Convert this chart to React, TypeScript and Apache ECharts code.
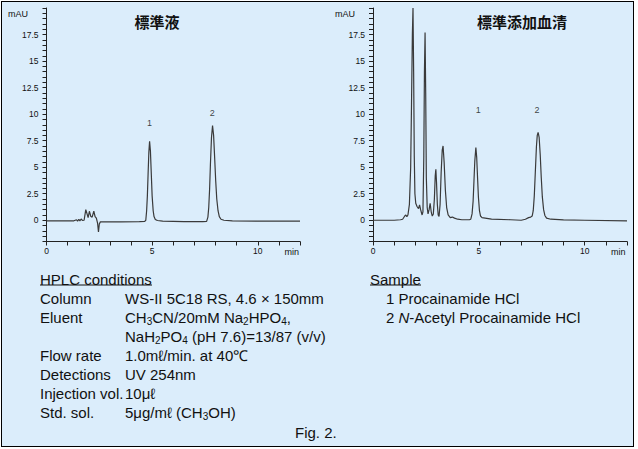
import React, { useEffect, useRef } from 'react';
import * as echarts from 'echarts';

// ---- data ----
const yTickLabels = [0, 2.5, 5, 7.5, 10, 12.5, 15, 17.5];
const xTickLabels = [0, 5, 10];
const chartTitles = ['標準液', '標準添加血清'];

// Standard solution chromatogram [min, mAU]
const standardTrace: [number, number][] = [
  [0, -0.05], [1.3, -0.05], [1.42, 0.05], [1.47, -0.08], [1.53, 0.1], [1.58, -0.05],
  [1.64, 0.12], [1.7, -0.02], [1.78, 0.0], [1.86, 1.0], [1.92, 0.6], [1.97, 0.25],
  [2.03, 0.85], [2.1, 0.35], [2.16, 0.3], [2.24, 0.85], [2.3, 0.35], [2.36, 0.2],
  [2.42, -0.3], [2.46, -1.1], [2.5, -0.35], [2.55, -0.15], [3.5, -0.15], [4.4, -0.12],
  [4.65, -0.1], [4.7, 0.0], [4.74, 0.9], [4.775, 2.3], [4.81, 4.4], [4.845, 6.4],
  [4.88, 7.45], [4.92, 6.5], [4.96, 4.4], [5.0, 2.3], [5.05, 0.9], [5.09, 0.35],
  [5.15, 0.08], [5.25, -0.02], [5.5, -0.08], [6.5, -0.12], [7.4, -0.12], [7.58, -0.1],
  [7.64, 0.3], [7.68, 1.2], [7.72, 2.9], [7.76, 5.3], [7.81, 7.8], [7.86, 8.92],
  [7.91, 8.0], [7.96, 5.9], [8.01, 3.7], [8.06, 2.0], [8.12, 0.9], [8.18, 0.35],
  [8.26, 0.1], [8.4, 0.0], [8.8, -0.05], [10, -0.08], [12, -0.08],
];

// Spiked serum chromatogram [min, mAU]
const serumTrace: [number, number][] = [
  [0, 0.0], [1.0, 0.0], [1.3, 0.05], [1.4, 0.1], [1.5, 0.4], [1.55, 0.5], [1.6, 0.35],
  [1.65, 0.5], [1.72, 1.5], [1.78, 5], [1.82, 11], [1.86, 17.5], [1.89, 20], [1.92, 14],
  [1.95, 6], [1.98, 2.5], [2.02, 1.6], [2.08, 1.3], [2.15, 1.1], [2.2, 1.45], [2.25, 1.0],
  [2.32, 0.5], [2.36, 0.8], [2.4, 6], [2.43, 14], [2.46, 17.7], [2.49, 12], [2.52, 4],
  [2.56, 1.2], [2.6, 0.6], [2.65, 1.0], [2.7, 1.6], [2.75, 0.8], [2.8, 0.4], [2.85, 0.6],
  [2.9, 2], [2.94, 4.2], [2.97, 4.8], [3.0, 3.6], [3.04, 1.5], [3.08, 0.5], [3.12, 0.35],
  [3.17, 1.5], [3.22, 4.5], [3.27, 6.6], [3.31, 7.0], [3.36, 5.5], [3.42, 2.8], [3.48, 1.2],
  [3.55, 0.5], [3.65, 0.25], [3.75, 0.3], [3.85, 0.2], [4.0, 0.1], [4.2, 0.05], [4.55, 0.05],
  [4.62, 0.1], [4.68, 0.6], [4.73, 1.8], [4.77, 3.7], [4.81, 5.6], [4.86, 6.85], [4.9, 5.9],
  [4.94, 4.0], [4.98, 2.2], [5.03, 0.9], [5.08, 0.4], [5.15, 0.25], [5.3, 0.2], [5.6, 0.1],
  [6.5, 0.05], [7.0, 0.0], [7.2, 0.1], [7.35, 0.25], [7.45, 0.3], [7.52, 0.4], [7.57, 0.9],
  [7.62, 2.3], [7.67, 4.6], [7.72, 6.9], [7.76, 8.0], [7.8, 8.27], [7.85, 7.8], [7.9, 6.2],
  [7.95, 4.0], [8.0, 2.2], [8.06, 1.0], [8.12, 0.45], [8.2, 0.2], [8.4, 0.1], [9.0, 0.03],
  [10, 0.0], [12, -0.05],
];

const standardPeakLabels = [
  { name: '1', time: 4.88, level: 9.2 },
  { name: '2', time: 7.85, level: 10.1 },
];
const serumPeakLabels = [
  { name: '1', time: 4.97, level: 10.4 },
  { name: '2', time: 7.75, level: 10.4 },
];

const conditionsHeading = 'HPLC conditions';
const conditionLabels = ['Column', 'Eluent', '', 'Flow rate', 'Detections', 'Injection vol.', 'Std. sol.'];
const conditionValues = [
  'WS-II 5C18 RS, 4.6 × 150mm',
  'CH{s|3}CN/20mM Na{s|2}HPO{s|4},',
  'NaH{s|2}PO{s|4} (pH 7.6)=13/87 (v/v)',
  '1.0mℓ/min. at 40℃',
  'UV 254nm',
  '10μℓ',
  '5μg/mℓ (CH{s|3}OH)',
];
const sampleHeading = 'Sample';
const sampleLines = ['1 Procainamide HCl', '2 {i|N}-Acetyl Procainamide HCl'];
const figCaption = 'Fig. 2.';

// ---- styles ----
const LATIN = '"Liberation Sans", Arial, sans-serif';
const CJK = '"Noto Sans CJK JP", sans-serif';
const TEXT = '#111';
const BODY_SIZE = 15;

export default function App() {
  const ref = useRef<HTMLDivElement>(null);

  useEffect(() => {
    if (!ref.current) return;
    const chart = echarts.init(ref.current, undefined, { renderer: 'svg' });

    const grids = [
      { left: 46.5, top: 8, width: 253.5, height: 233.5 },
      { left: 373, top: 8, width: 254, height: 233.5 },
    ];

    const xAxis = grids.map((_, i) => ({
      type: 'value',
      gridIndex: i,
      min: 0,
      max: 12,
      interval: 1,
      axisLine: { show: true, onZero: false, lineStyle: { color: '#222', width: 1 } },
      axisTick: { show: true, length: 4, lineStyle: { color: '#222' } },
      splitLine: { show: false },
      axisLabel: {
        margin: 5,
        fontSize: 8.5,
        fontFamily: LATIN,
        color: TEXT,
        formatter: (v: number) => (xTickLabels.includes(v) ? String(v) : ''),
      },
    }));

    const yAxis = grids.map((_, i) => ({
      type: 'value',
      gridIndex: i,
      min: -2,
      max: 20,
      interval: 0.5,
      axisLine: { show: true, onZero: false, lineStyle: { color: '#222', width: 1 } },
      axisTick: { show: true, length: 4, lineStyle: { color: '#222' } },
      splitLine: { show: false },
      axisLabel: {
        margin: 8,
        fontSize: 8.5,
        fontFamily: LATIN,
        color: TEXT,
        formatter: (v: number) => (yTickLabels.includes(v) ? String(v) : ''),
      },
    }));

    const traces = [standardTrace, serumTrace];
    const peakSets = [standardPeakLabels, serumPeakLabels];

    const series: any[] = [];
    traces.forEach((t, i) => {
      series.push({
        type: 'line',
        xAxisIndex: i,
        yAxisIndex: i,
        data: t,
        showSymbol: false,
        symbol: 'none',
        clip: true,
        lineStyle: { color: '#3a3a3a', width: 1.2 },
      });
      series.push({
        type: 'scatter',
        xAxisIndex: i,
        yAxisIndex: i,
        symbolSize: 1,
        itemStyle: { color: 'rgba(0,0,0,0)' },
        data: peakSets[i].map((p) => ({ name: p.name, value: [p.time, p.level] })),
        label: {
          show: true,
          position: 'inside',
          formatter: '{b}',
          fontSize: 9,
          fontFamily: LATIN,
          color: TEXT,
        },
      });
    });

    const graphic: any[] = [];
    const txt = (x: number, y: number, text: string, extra: any = {}) => ({
      type: 'text',
      x,
      y,
      style: {
        text,
        fill: TEXT,
        fontSize: BODY_SIZE,
        fontFamily: LATIN,
        align: 'left',
        verticalAlign: 'middle',
        lineHeight: 18,
        ...extra,
      },
    });

    // titles
    graphic.push(txt(157, 21, chartTitles[0], { fontFamily: CJK, fontWeight: 'bold', fontSize: 15, align: 'center' }));
    graphic.push(txt(522, 21, chartTitles[1], { fontFamily: CJK, fontWeight: 'bold', fontSize: 15, align: 'center' }));
    // axis units
    [8, 335].forEach((x) => graphic.push(txt(x, 14, 'mAU', { fontSize: 9 })));
    [284.5, 611].forEach((x) => graphic.push(txt(x, 251.5, 'min', { fontSize: 9 })));

    const rich = {
      s: { fontSize: 10, fontFamily: LATIN, fill: TEXT, verticalAlign: 'bottom', lineHeight: 11 },
      i: { fontSize: BODY_SIZE, fontFamily: LATIN, fill: TEXT, fontStyle: 'italic', lineHeight: 18 },
    };

    // conditions block
    const rowY = [298.3, 317.3, 336, 355, 374.3, 393.3, 412.3];
    graphic.push(txt(40, 279, conditionsHeading));
    graphic.push({ type: 'line', shape: { x1: 40, y1: 285, x2: 152, y2: 285 }, style: { stroke: TEXT, lineWidth: 1 } });
    conditionLabels.forEach((l, k) => {
      if (l) graphic.push(txt(40, rowY[k], l));
      graphic.push(txt(125, rowY[k], conditionValues[k], { rich }));
    });

    // sample block
    graphic.push(txt(370, 279, sampleHeading));
    graphic.push({ type: 'line', shape: { x1: 370, y1: 285, x2: 421, y2: 285 }, style: { stroke: TEXT, lineWidth: 1 } });
    sampleLines.forEach((l, k) => graphic.push(txt(386, rowY[k], l, { rich })));

    graphic.push(txt(295, 432, figCaption));

    chart.setOption({
      animation: false,
      grid: grids,
      xAxis,
      yAxis,
      series,
      graphic,
    });

    return () => chart.dispose();
  }, []);

  return (
    <div style={{ position: 'fixed', left: 0, top: 0, width: 638, height: 449, background: '#ffffff' }}>
      <div
        style={{
          position: 'absolute',
          left: 1,
          top: 1,
          width: 631,
          height: 444,
          border: '1.5px solid #000',
          background: '#dbedfb',
        }}
      />
      <div ref={ref} style={{ position: 'absolute', left: 0, top: 0, width: 638, height: 449 }} />
    </div>
  );
}
